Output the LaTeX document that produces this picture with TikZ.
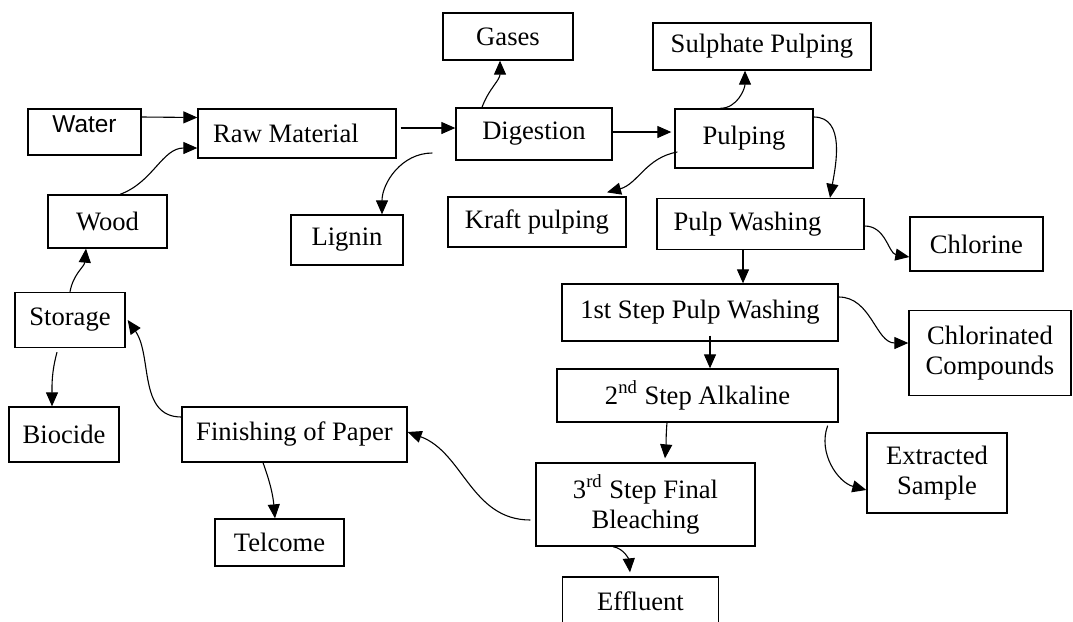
\documentclass[tikz,border=0pt]{standalone}
\usepackage{fontspec}
\setmainfont{Liberation Serif}
\newfontfamily\arialfont{Liberation Sans}
\usetikzlibrary{arrows.meta}

\begin{document}
\begin{tikzpicture}[x=0.5pt, y=-0.5pt,
            blk/.style={draw, line width=0.65pt, inner sep=0pt, align=center,
              font=\fontsize{13.3}{15}\selectfont},
            arr/.style={-{Triangle[length=7pt,width=6pt]}, line width=0.55pt}]
            \useasboundingbox (0,0) rectangle (1073,622);
            \node[blk, minimum width=56.5pt, minimum height=23pt, text height=8pt, text depth=8pt,
              font=\arialfont\fontsize{12.2}{14}\selectfont] at (84.5,132) (water) {Water};
            \node[blk, minimum width=99pt, minimum height=24.5pt] at (297,133.5) (raw) {Raw Material\hspace{11pt}};
            \node[blk, minimum width=59.5pt, minimum height=26.5pt] at (107.5,221.5) (wood) {Wood};
            \node[blk, minimum width=65pt, minimum height=23.5pt] at (508,36.5) (gases) {Gases};
            \node[blk, minimum width=78pt, minimum height=26pt] at (534,134) (digest) {Digestion};
            \node[blk, minimum width=109pt, minimum height=23.5pt] at (762,46.5) (sulph) {Sulphate Pulping};
            \node[blk, minimum width=69pt, minimum height=29.5pt] at (744,138.5) (pulping) {Pulping};
            \node[blk, minimum width=89pt, minimum height=25pt] at (537,222) (kraft) {Kraft pulping};
            \node[blk, minimum width=56pt, minimum height=25pt] at (347,240) (lignin) {Lignin};
            \node[blk, minimum width=103.5pt, minimum height=25.5pt] at (760.5,224) (pwash) {Pulp Washing\hspace{13pt}};
            \node[blk, minimum width=66.5pt, minimum height=27pt] at (976.5,244) (chlorine) {Chlorine};
            \node[blk, minimum width=138pt, minimum height=28.5pt] at (700,312.5) (step1) {1st Step Pulp Washing};
            \node[blk, minimum width=81pt, minimum height=42.5pt] at (990,353) (chlcomp) {Chlorinated\\Compounds};
            \node[blk, minimum width=140.5pt, minimum height=26.5pt] at (697.5,395.5) (step2) {2\textsuperscript{nd} Step Alkaline};
            \node[blk, minimum width=70pt, minimum height=40pt] at (937,473) (extract) {Extracted\\Sample};
            \node[blk, minimum width=109.5pt, minimum height=41.5pt] at (645.5,504.5) (step3) {3\textsuperscript{rd} Step Final\\Bleaching};
            \node[blk, minimum width=78pt, minimum height=24pt] at (640.5,601) (effluent) {Effluent};
            \node[blk, minimum width=55pt, minimum height=27.5pt] at (70,320) (storage) {Storage};
            \node[blk, minimum width=55pt, minimum height=27.5pt] at (64,434.5) (biocide) {Biocide};
            \node[blk, minimum width=112.5pt, minimum height=27.5pt] at (294.5,434.5) (finish) {Finishing of Paper};
            \node[blk, minimum width=64.5pt, minimum height=23.5pt] at (279.5,542.5) (telcome) {Telcome};
            \draw[arr] ([yshift=7.5pt]water.east) -- ([yshift=8pt]raw.west);
            \draw[arr] ([xshift=6.25pt]wood.north) to[out=20,in=180] ([yshift=-7.25pt]raw.west);
            \draw[arr] ([xshift=2pt,yshift=2.75pt]raw.east) -- ([yshift=3pt]digest.west);
            \draw[arr] ([xshift=-26pt]digest.north) to[out=70,in=-90] ([xshift=-4pt]gases.south);
            \draw[arr] ([xshift=-11.5pt,yshift=-9.5pt]digest.west) to[out=180,in=90] ([xshift=17.5pt]lignin.north);
            \draw[arr] ([yshift=1pt]digest.east) -- ([xshift=-1.5pt,yshift=3.25pt]pulping.west);
            \draw[arr] ([xshift=-12pt]pulping.north) to[out=0,in=-90] ([xshift=-8.5pt]sulph.south);
            \draw[arr] ([xshift=1.5pt,yshift=-6.75pt]pulping.west) to[out=190,in=15] ([xshift=35pt,yshift=2pt]kraft.north);
            \draw[arr] ([yshift=10.75pt]pulping.east) to[out=0,in=80] ([xshift=34.75pt]pwash.north);
            \draw[arr] ([yshift=-1pt]pwash.east) to[out=0,in=170] ([yshift=-6.5pt]chlorine.west);
            \draw[arr] ([xshift=-8.75pt]pwash.south) -- ([xshift=21.5pt]step1.north);
            \draw[arr] ([yshift=7.75pt]step1.east) to[out=0,in=180] ([yshift=5pt]chlcomp.west);
            \draw[arr] ([xshift=5pt,yshift=3pt]step1.south) -- ([xshift=6.25pt]step2.north);
            \draw[arr] ([xshift=-15.25pt]step2.south) to[out=-95,in=85] ([xshift=9.75pt,yshift=2pt]step3.north);
            \draw[arr] ([xshift=-5.5pt,yshift=-1.5pt]step2.south east) to[out=-110,in=165] ([yshift=-8.5pt]extract.west);
            \draw[arr] ([xshift=-2.5pt,yshift=-7.75pt]step3.west) to[out=180,in=-20] ([yshift=1.25pt]finish.east);
            \draw[arr] ([xshift=-16.25pt]step3.south) to[out=-10,in=95] ([xshift=-5.25pt,yshift=2pt]effluent.north);
            \draw[arr] ([yshift=8.75pt]finish.west) to[out=180,in=-55] ([xshift=1pt]storage.east);
            \draw[arr] ([xshift=-15.75pt]finish.south) to[out=-70,in=95] ([xshift=-2.25pt]telcome.north);
            \draw[arr] ([xshift=-6.5pt,yshift=-2pt]storage.south) to[out=-105,in=90] ([xshift=-6pt]biocide.north);
            \draw[arr] (storage.north) to[out=80,in=-95] ([xshift=-10.75pt]wood.south);
        \end{tikzpicture}
\end{document}
